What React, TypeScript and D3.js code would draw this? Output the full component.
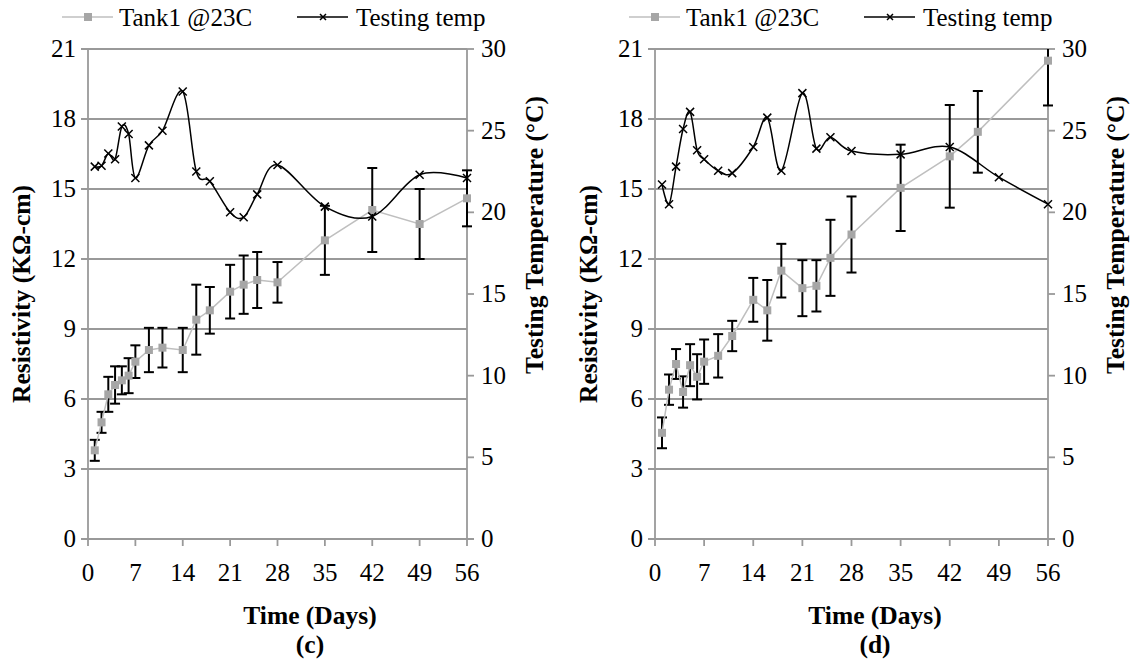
import React from 'react';
import * as d3 from 'd3';

const dayTicks = [0, 7, 14, 21, 28, 35, 42, 49, 56];
const resTicks = [0, 3, 6, 9, 12, 15, 18, 21];
const tempTicks = [0, 5, 10, 15, 20, 25, 30];

const cResDays = [1, 2, 3, 4, 5, 6, 7, 9, 11, 14, 16, 18, 21, 23, 25, 28, 35, 42, 49, 56];
const cResValues = [3.8, 5.0, 6.2, 6.6, 6.8, 7.0, 7.6, 8.1, 8.2, 8.1, 9.4, 9.8, 10.6, 10.9, 11.1, 11.0, 12.8, 14.1, 13.5, 14.6];
const cResErrors = [0.45, 0.45, 0.75, 0.8, 0.6, 0.75, 0.7, 0.95, 0.85, 0.95, 1.5, 1.0, 1.15, 1.25, 1.2, 0.87, 1.48, 1.8, 1.5, 1.2];
const cTempDays = [1, 2, 3, 4, 5, 6, 7, 9, 11, 14, 16, 18, 21, 23, 25, 28, 35, 42, 49, 56];
const cTempValues = [22.8, 22.85, 23.6, 23.25, 25.25, 24.8, 22.1, 24.1, 25.0, 27.4, 22.5, 21.9, 20.0, 19.7, 21.1, 22.9, 20.35, 19.75, 22.3, 22.1];

const dResDays = [1, 2, 3, 4, 5, 6, 7, 9, 11, 14, 16, 18, 21, 23, 25, 28, 35, 42, 46, 56];
const dResValues = [4.55, 6.4, 7.5, 6.3, 7.45, 6.95, 7.6, 7.85, 8.7, 10.25, 9.8, 11.5, 10.75, 10.85, 12.05, 13.05, 15.05, 16.4, 17.45, 20.5];
const dResErrors = [0.66, 0.65, 0.64, 0.67, 0.9, 0.97, 0.95, 0.93, 0.65, 0.94, 1.3, 1.15, 1.2, 1.1, 1.63, 1.63, 1.85, 2.2, 1.75, 1.92];
const dTempDays = [1, 2, 3, 4, 5, 6, 7, 9, 11, 14, 16, 18, 21, 23, 25, 28, 35, 42, 49, 56];
const dTempValues = [21.7, 20.5, 22.8, 25.1, 26.15, 23.8, 23.25, 22.55, 22.4, 24.0, 25.8, 22.55, 27.3, 23.9, 24.6, 23.75, 23.55, 24.0, 22.15, 20.5];

const seriesNames = ['Tank1 @23C', 'Testing temp'];
const FONT = 'Liberation Serif';
const GRID = '#999999';
const RES_COLOR = '#a6a6a6';
const RES_LINE = '#bfbfbf';

type PanelProps = {
  id: string;
  x0: number;
  x1: number;
  letter: string;
  titleX: number;
  resDays: number[];
  resValues: number[];
  resErrors: number[];
  tempDays: number[];
  tempValues: number[];
};

const TOP = 49;
const BOTTOM = 539;

function T(props: { x?: number; y?: number; anchor?: string; bold?: boolean; transform?: string; children: React.ReactNode }) {
  return (
    <text
      x={props.x}
      y={props.y}
      transform={props.transform}
      textAnchor={props.anchor || 'start'}
      fontFamily={FONT}
      fontSize={props.bold ? 25.5 : 25}
      fontWeight={props.bold ? 'bold' : 'normal'}
      fill="#000"
      style={{ fontFamily: FONT }}
    >
      {props.children}
    </text>
  );
}

function Panel(p: PanelProps) {
  const x = d3.scaleLinear().domain([0, 56]).range([p.x0, p.x1]);
  const yR = d3.scaleLinear().domain([0, 21]).range([BOTTOM, TOP]);
  const yT = d3.scaleLinear().domain([0, 30]).range([BOTTOM, TOP]);

  const resPts: [number, number][] = p.resDays.map((d, i) => [x(d), yR(p.resValues[i])]);
  const tempPts: [number, number][] = p.tempDays.map((d, i) => [x(d), yT(p.tempValues[i])]);
  const resLine = d3.line().curve(d3.curveLinear)(resPts) || '';
  const tempLine = d3.line().curve(d3.curveCardinal.tension(0))(tempPts) || '';

  const legX = p.x0 - 26;
  const clipId = 'clip-' + p.id;
  const ms = 4;
  const xs = 4;

  return (
    <g>
      <defs>
        <clipPath id={clipId}>
          <rect x={p.x0 - 20} y={TOP} width={p.x1 - p.x0 + 40} height={BOTTOM - TOP + 20} />
        </clipPath>
      </defs>
      {/* legend */}
      <line x1={legX} x2={legX + 51} y1={17} y2={17} stroke={RES_LINE} strokeWidth={1.5} />
      <rect x={legX + 26 - ms} y={17 - ms} width={ms * 2} height={ms * 2} fill={RES_COLOR} />
      <T x={legX + 57} y={26}>{seriesNames[0]}</T>
      <line x1={legX + 235} x2={legX + 286} y1={17} y2={17} stroke="#000" strokeWidth={1.5} />
      <path d={`M${legX + 261 - 3},${17 - 3}L${legX + 261 + 3},${17 + 3}M${legX + 261 - 3},${17 + 3}L${legX + 261 + 3},${17 - 3}`} stroke="#000" strokeWidth={1.5} />
      <T x={legX + 294} y={26}>{seriesNames[1]}</T>
      {/* gridlines */}
      {resTicks.map((t) => (
        <line key={'g' + t} x1={p.x0 - 7} x2={p.x1} y1={yR(t)} y2={yR(t)} stroke={GRID} strokeWidth={1.8} />
      ))}
      {/* axes */}
      <line x1={p.x0} x2={p.x0} y1={TOP} y2={BOTTOM} stroke={GRID} strokeWidth={1.8} />
      <line x1={p.x1} x2={p.x1} y1={TOP} y2={BOTTOM} stroke={GRID} strokeWidth={1.8} />
      <line x1={p.x0 - 7} x2={p.x1 + 7} y1={BOTTOM} y2={BOTTOM} stroke={GRID} strokeWidth={1.8} />
      {dayTicks.map((t) => (
        <line key={'xt' + t} x1={x(t)} x2={x(t)} y1={BOTTOM} y2={BOTTOM + 7} stroke={GRID} strokeWidth={1.8} />
      ))}
      {tempTicks.map((t) => (
        <line key={'tt' + t} x1={p.x1} x2={p.x1 + 7} y1={yT(t)} y2={yT(t)} stroke={GRID} strokeWidth={1.8} />
      ))}
      {/* tick labels */}
      {resTicks.map((t) => (
        <T key={'rl' + t} x={p.x0 - 12} y={yR(t) + 8} anchor="end">{t}</T>
      ))}
      {tempTicks.map((t) => (
        <T key={'tl' + t} x={p.x1 + 14} y={yT(t) + 8}>{t}</T>
      ))}
      {dayTicks.map((t) => (
        <T key={'dl' + t} x={x(t)} y={BOTTOM + 42} anchor="middle">{t}</T>
      ))}
      {/* axis titles */}
      <T x={p.titleX} y={BOTTOM + 85} anchor="middle" bold>Time (Days)</T>
      <T x={p.titleX} y={BOTTOM + 114} anchor="middle" bold>({p.letter})</T>
      <T transform={`translate(${p.x0 - 58},${(TOP + BOTTOM) / 2}) rotate(-90)`} anchor="middle" bold>Resistivity (KΩ-cm)</T>
      <T transform={`translate(${p.x1 + 76},235) rotate(-90)`} anchor="middle" bold>Testing Temperature (°C)</T>
      {/* error bars */}
      <g clipPath={`url(#${clipId})`} stroke="#000" strokeWidth={2}>
        {p.resDays.map((d, i) => {
          const cx = x(d);
          const hi = yR(p.resValues[i] + p.resErrors[i]);
          const lo = yR(p.resValues[i] - p.resErrors[i]);
          return (
            <g key={'e' + i}>
              <line x1={cx} x2={cx} y1={hi} y2={lo} />
              <line x1={cx - 5} x2={cx + 5} y1={hi} y2={hi} />
              <line x1={cx - 5} x2={cx + 5} y1={lo} y2={lo} />
            </g>
          );
        })}
      </g>
      {/* resistivity */}
      <path d={resLine} fill="none" stroke={RES_LINE} strokeWidth={1.5} />
      {resPts.map(([cx, cy], i) => (
        <rect key={'m' + i} x={cx - ms} y={cy - ms} width={ms * 2} height={ms * 2} fill={RES_COLOR} />
      ))}
      {/* temperature */}
      <path d={tempLine} fill="none" stroke="#000" strokeWidth={1.5} />
      {tempPts.map(([cx, cy], i) => (
        <path key={'t' + i} d={`M${cx - xs},${cy - xs}L${cx + xs},${cy + xs}M${cx - xs},${cy + xs}L${cx + xs},${cy - xs}`} stroke="#000" strokeWidth={1.5} />
      ))}
    </g>
  );
}

export default function App() {
  return (
    <svg width={1145} height={662} fontFamily={FONT} style={{ position: 'absolute', left: 0, top: 0, background: '#fff', fontFamily: FONT }}>
      <rect x={0} y={0} width={1145} height={662} fill="#fff" />
      <Panel id="c" x0={88} x1={467} letter="c" titleX={310}
        resDays={cResDays} resValues={cResValues} resErrors={cResErrors}
        tempDays={cTempDays} tempValues={cTempValues} />
      <Panel id="d" x0={655} x1={1048} letter="d" titleX={875}
        resDays={dResDays} resValues={dResValues} resErrors={dResErrors}
        tempDays={dTempDays} tempValues={dTempValues} />
    </svg>
  );
}
